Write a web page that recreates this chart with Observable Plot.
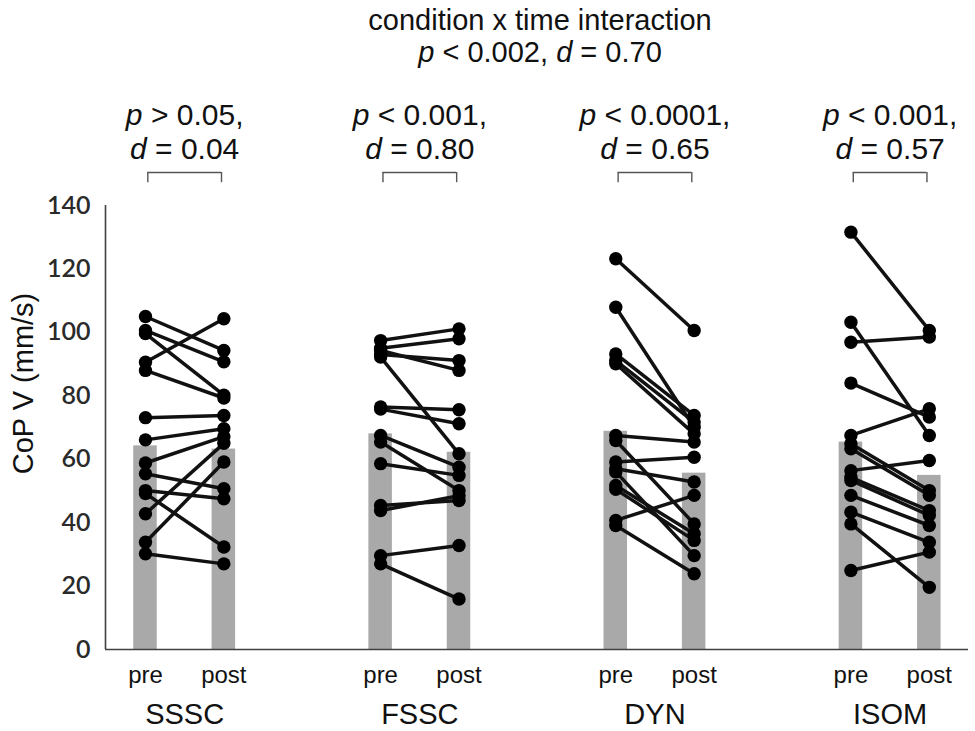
<!DOCTYPE html>
<html>
<head>
<meta charset="utf-8">
<script src="https://cdn.jsdelivr.net/npm/d3@7"></script>
<script src="https://cdn.jsdelivr.net/npm/@observablehq/plot@0.6"></script>
<style>
  body { margin: 0; background: #fff; }
  #title {
    width: 975px; height: 80px; box-sizing: border-box;
    padding-top: 4px; padding-left: 105px; text-align: center;
    font-family: "Liberation Sans", Arial, sans-serif;
    font-size: 29px; line-height: 32px; color: #111;
  }
</style>
</head>
<body>
<div id="title">
  <div>condition x time interaction</div>
  <div><i>p</i> &lt; 0.002, <i>d</i> = 0.70</div>
</div>
<div id="chart"></div>
<script>
// ---- data ----
const conditions = ["SSSC", "FSSC", "DYN", "ISOM"];
const phases = ["pre", "post"];

const ssscPre  = [105.0, 100.6, 99.6, 90.6, 88.0, 73.1, 66.1, 58.8, 55.4, 50.1, 49.2, 42.8, 33.8, 30.2];
const ssscPost = [ 94.3,  90.7, 80.2, 104.3, 79.3, 73.8, 69.6, 67.1, 50.7, 47.5, 32.3, 65.0, 59.1, 27.0];

const fsscPre  = [97.4, 95.0, 94.3, 93.0, 92.2, 76.5, 75.8, 67.5, 65.4, 58.6, 45.4, 43.8, 29.6, 27.0];
const fsscPost = [101.1, 98.0, 88.0, 91.1, 61.7, 75.6, 71.2, 57.5, 50.1, 54.9, 47.0, 48.5, 32.8, 15.9];

const dynPre   = [123.2, 107.9, 93.2, 91.1, 90.1, 67.5, 65.9, 59.1, 57.0, 56.0, 51.7, 50.5, 40.7, 39.1];
const dynPost  = [100.6,  70.1, 73.8, 71.7, 68.0, 65.4, 39.6, 60.6, 52.8, 29.6, 36.5, 34.4, 48.6, 23.9];

const isomPre  = [131.6, 103.2, 96.9, 84.0, 67.5, 64.9, 63.3, 56.4, 54.3, 53.3, 48.6, 43.3, 39.6, 24.9];
const isomPost = [100.6,  67.5, 98.5, 73.3, 75.9, 50.1, 48.6, 59.6, 43.8, 42.3, 39.1, 33.8, 19.6, 30.7];

const barPre  = [64.2, 68.0, 68.8, 65.4];
const barPost = [63.2, 62.2, 55.6, 54.9];

const annotP = ["p > 0.05,", "p < 0.001,", "p < 0.0001,", "p < 0.001,"];
const annotD = ["d = 0.04", "d = 0.80", "d = 0.65", "d = 0.57"];

const yTicks = [0, 20, 40, 60, 80, 100, 120, 140];
const yLabel = "CoP V (mm/s)";

// ---- derived tables ----
const preSets = [ssscPre, fsscPre, dynPre, isomPre];
const postSets = [ssscPost, fsscPost, dynPost, isomPost];
const slot = (i, phase) => 3 * i + (phase === "pre" ? 0 : 1);

const pairs = [];
const points = [];
conditions.forEach((c, i) => {
  preSets[i].forEach((v, j) => {
    const w = postSets[i][j];
    pairs.push({ cond: c, xPre: slot(i, "pre"), xPost: slot(i, "post"), pre: v, post: w });
    points.push({ x: slot(i, "pre"), y: v });
    points.push({ x: slot(i, "post"), y: w });
  });
});

const bars = [];
const phaseLabels = [];
conditions.forEach((c, i) => {
  bars.push({ x: slot(i, "pre"), value: barPre[i] });
  bars.push({ x: slot(i, "post"), value: barPost[i] });
  phases.forEach(p => phaseLabels.push({ x: slot(i, p), label: p }));
});

const groups = conditions.map((c, i) => ({
  name: c, center: 3 * i + 0.5, left: 3 * i + 0.03, right: 3 * i + 0.97,
  p: annotP[i], d: annotD[i]
}));
const bracketEnds = groups.flatMap(g => [g.left, g.right]);

const xMin = -0.51;
const FONT = '"Liberation Sans", Arial, sans-serif';

const chart = Plot.plot({
  width: 975,
  height: 651,
  marginLeft: 105,
  marginRight: 7,
  marginTop: 125,
  marginBottom: 82,
  style: { fontFamily: FONT, color: "#111", background: "#fff", overflow: "visible" },
  x: { type: "linear", domain: [xMin, 10.5], axis: null },
  y: { domain: [0, 140], axis: null },
  marks: [
    Plot.rectY(bars, { x1: d => d.x - 0.15, x2: d => d.x + 0.15, y: "value", fill: "#a9a9a9" }),
    Plot.ruleY([0], { stroke: "#404040", strokeWidth: 1.6 }),
    Plot.ruleX([xMin], { y1: 0, y2: 140, stroke: "#404040", strokeWidth: 1.6 }),
    Plot.axisY({ ticks: yTicks, tickSize: 0, tickPadding: 15, fontSize: 25, fontFamily: "Lato", fontWeight: 600, label: null, fill: "#2a2a2a" }),
    Plot.link(pairs, { x1: "xPre", y1: "pre", x2: "xPost", y2: "post", stroke: "#111", strokeWidth: 3.5 }),
    Plot.dot(points, { x: "x", y: "y", r: 6.7, fill: "#000", stroke: "none" }),
    // brackets
    Plot.ruleY(groups, { y: 150.4, x1: "left", x2: "right", stroke: "#555", strokeWidth: 1.4 }),
    Plot.ruleX(bracketEnds, { x: d => d, y1: 147.2, y2: 150.4, stroke: "#555", strokeWidth: 1.4 }),
    // annotations
    Plot.text(groups, { x: "center", text: "p", frameAnchor: "top", lineAnchor: "bottom", dy: -81, fontSize: 30, fill: "#111" }),
    Plot.text(groups, { x: "center", text: "d", frameAnchor: "top", lineAnchor: "bottom", dy: -47, fontSize: 30, fill: "#111" }),
    // x labels
    Plot.text(phaseLabels, { x: "x", text: "label", frameAnchor: "bottom", lineAnchor: "bottom", dy: 33, fontSize: 24, fill: "#111" }),
    Plot.text(groups, { x: "center", text: "name", frameAnchor: "bottom", lineAnchor: "bottom", dy: 74, fontSize: 29, fill: "#111" }),
    // y label
    Plot.text([yLabel], { text: d => d, frameAnchor: "left", textAnchor: "middle", lineAnchor: "middle", rotate: -90, dx: -82, dy: -44, fontSize: 29, fill: "#111" })
  ]
});

// italicise the statistic symbols (p, d)
d3.select(chart).selectAll("text").each(function () {
  const t = this.textContent;
  if (!/^[pd] [<>=]/.test(t)) return;
  const sel = d3.select(this);
  sel.text(null).style("white-space", "pre");
  sel.append("tspan").attr("font-style", "italic").text(t.slice(0, 1));
  sel.append("tspan").text(t.slice(1));
});

document.getElementById("chart").appendChild(chart);
</script>
</body>
</html>
